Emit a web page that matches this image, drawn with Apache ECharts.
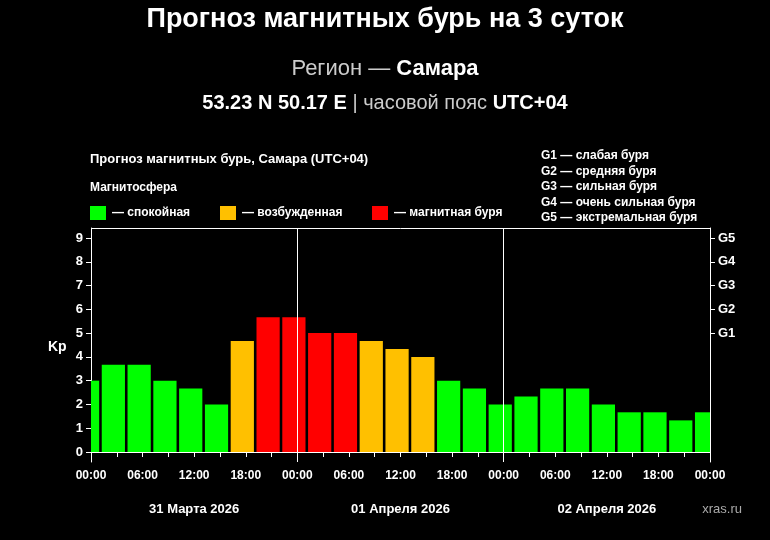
<!DOCTYPE html>
<html><head><meta charset="utf-8">
<script src="https://cdn.jsdelivr.net/npm/echarts@6/dist/echarts.min.js"></script>
<style>html,body{margin:0;background:#000}#c{width:770px;height:540px}</style>
</head><body><div id="c"></div>
<script>
// часы от 00:00 31 марта (центр бара) и значения Kp
var hours = [-0.4, 2.6, 5.6, 8.6, 11.6, 14.6, 17.6, 20.6, 23.6, 26.6, 29.6, 32.6, 35.6, 38.6, 41.6, 44.6, 47.6, 50.6, 53.6, 56.6, 59.6, 62.6, 65.6, 68.6, 71.6];
var kp = [3, 3.67, 3.67, 3, 2.67, 2, 4.67, 5.67, 5.67, 5, 5, 4.67, 4.33, 4, 3, 2.67, 2, 2.33, 2.67, 2.67, 2, 1.67, 1.67, 1.33, 1.67];
var days = ['31 Марта 2026', '01 Апреля 2026', '02 Апреля 2026'];
var gLabels = {5: 'G1', 6: 'G2', 7: 'G3', 8: 'G4', 9: 'G5'};
var kpTicks = [0, 1, 2, 3, 4, 5, 6, 7, 8, 9];

function kpColor(v) {
	if (v >= 5) return '#ff0000';
	if (v >= 4) return '#ffc000';
	return '#00ff00';
}
var data = [];
for (var i = 0; i < hours.length; i++) {
	data.push([hours[i], kp[i]]);
}
var font = '"Liberation Sans", Arial, sans-serif';
var chart = echarts.init(document.getElementById('c'));
var legend = [['#00ff00', '— спокойная', 90], ['#ffc000', '— возбужденная', 220], ['#ff0000', '— магнитная буря', 372]];
var graphic = [
	{type: 'text', left: 'center', top: 6, style: {text: 'Прогноз магнитных бурь на 3 суток', fill: '#fff', font: 'bold 27px ' + font}},
	{type: 'text', left: 'center', top: 58, style: {rich: {a: {fill: '#ccc', font: '22px ' + font}, b: {fill: '#fff', font: 'bold 22px ' + font}}, text: '{a|Регион — }{b|Самара}'}},
	{type: 'text', left: 'center', top: 93, style: {rich: {a: {fill: '#ccc', font: '20px ' + font}, b: {fill: '#fff', font: 'bold 20px ' + font}}, text: '{b|53.23 N 50.17 E}{a| | часовой пояс }{b|UTC+04}'}},
	{type: 'text', left: 90, top: 153, style: {text: 'Прогноз магнитных бурь, Самара (UTC+04)', fill: '#fff', font: 'bold 13px ' + font}},
	{type: 'text', left: 90, top: 182, style: {text: 'Магнитосфера', fill: '#fff', font: 'bold 12px ' + font}},
	{type: 'text', left: 541, top: 148, style: {text: 'G1 — слабая буря\nG2 — средняя буря\nG3 — сильная буря\nG4 — очень сильная буря\nG5 — экстремальная буря', fill: '#fff', font: 'bold 12px ' + font, lineHeight: 15.5}},
	{type: 'text', left: 48, top: 340, style: {text: 'Kp', fill: '#fff', font: 'bold 14px ' + font}},
	{type: 'text', right: 28, top: 503, style: {text: 'xras.ru', fill: '#aaa', font: '13px ' + font}}
];
legend.forEach(function(l) {
	graphic.push({type: 'rect', left: l[2], top: 206, shape: {width: 16, height: 14}, style: {fill: l[0]}});
	graphic.push({type: 'text', left: l[2] + 22, top: 207, style: {text: l[1], fill: '#fff', font: 'bold 12px ' + font}});
});
var option = {
	backgroundColor: '#000',
	animation: false,
	grid: {left: 91, right: 60, top: 228, bottom: 78},
	xAxis: [{
		type: 'value', min: 0, max: 72, interval: 3,
		axisLine: {lineStyle: {color: '#fff'}},
		axisTick: {lineStyle: {color: '#fff'}, length: 5},
		splitLine: {show: false},
		axisLabel: {color: '#fff', fontWeight: 'bold', fontSize: 12, fontFamily: font, margin: 8,
			showMaxLabel: true,
			formatter: function(v) { if (v % 6) return ''; var h = v % 24; return (h < 10 ? '0' : '') + h + ':00'; }}
	}, {
		type: 'category', data: days, position: 'bottom', offset: 33,
		axisLine: {show: true, lineStyle: {color: '#fff'}},
		axisTick: {show: true, inside: true, length: 6, lineStyle: {color: '#fff'}},
		axisLabel: {color: '#fff', fontWeight: 'bold', fontSize: 13, fontFamily: font, margin: 8}
	}],
	yAxis: [{
		type: 'value', min: -0.42, max: 9.42,
		axisLine: {show: true, lineStyle: {color: '#fff'}},
		axisTick: {show: true, customValues: kpTicks, lineStyle: {color: '#fff'}},
		axisLabel: {customValues: kpTicks, color: '#fff', fontWeight: 'bold', fontSize: 13, fontFamily: font},
		splitLine: {show: false}
	}, {
		type: 'value', min: -0.42, max: 9.42, position: 'right',
		axisLine: {show: true, lineStyle: {color: '#fff'}},
		axisTick: {show: true, customValues: [5, 6, 7, 8, 9], lineStyle: {color: '#fff'}},
		axisLabel: {customValues: [5, 6, 7, 8, 9], color: '#fff', fontWeight: 'bold', fontSize: 13, fontFamily: font,
			formatter: function(v) { return gLabels[Math.round(v)] || ''; }},
		splitLine: {show: false}
	}],
	series: [{
		type: 'custom', data: data,
		renderItem: function(params, api) {
			var x0 = api.coord([api.value(0) - 1.35, 0]);
			var x1 = api.coord([api.value(0) + 1.35, api.value(1)]);
			var rect = echarts.graphic.clipRectByRect(
				{x: x0[0], y: x1[1], width: x1[0] - x0[0], height: x0[1] - x1[1]},
				{x: params.coordSys.x, y: params.coordSys.y, width: params.coordSys.width, height: params.coordSys.height});
			return rect && {type: 'rect', shape: rect, style: {fill: kpColor(api.value(1))}};
		},
		markLine: {symbol: 'none', silent: true, label: {show: false},
			lineStyle: {color: '#fff', type: 'solid', width: 1},
			data: [{xAxis: 24}, {xAxis: 48}, {yAxis: 9.42}]}
	}],
	graphic: graphic
};
chart.setOption(option);
</script></body></html>
